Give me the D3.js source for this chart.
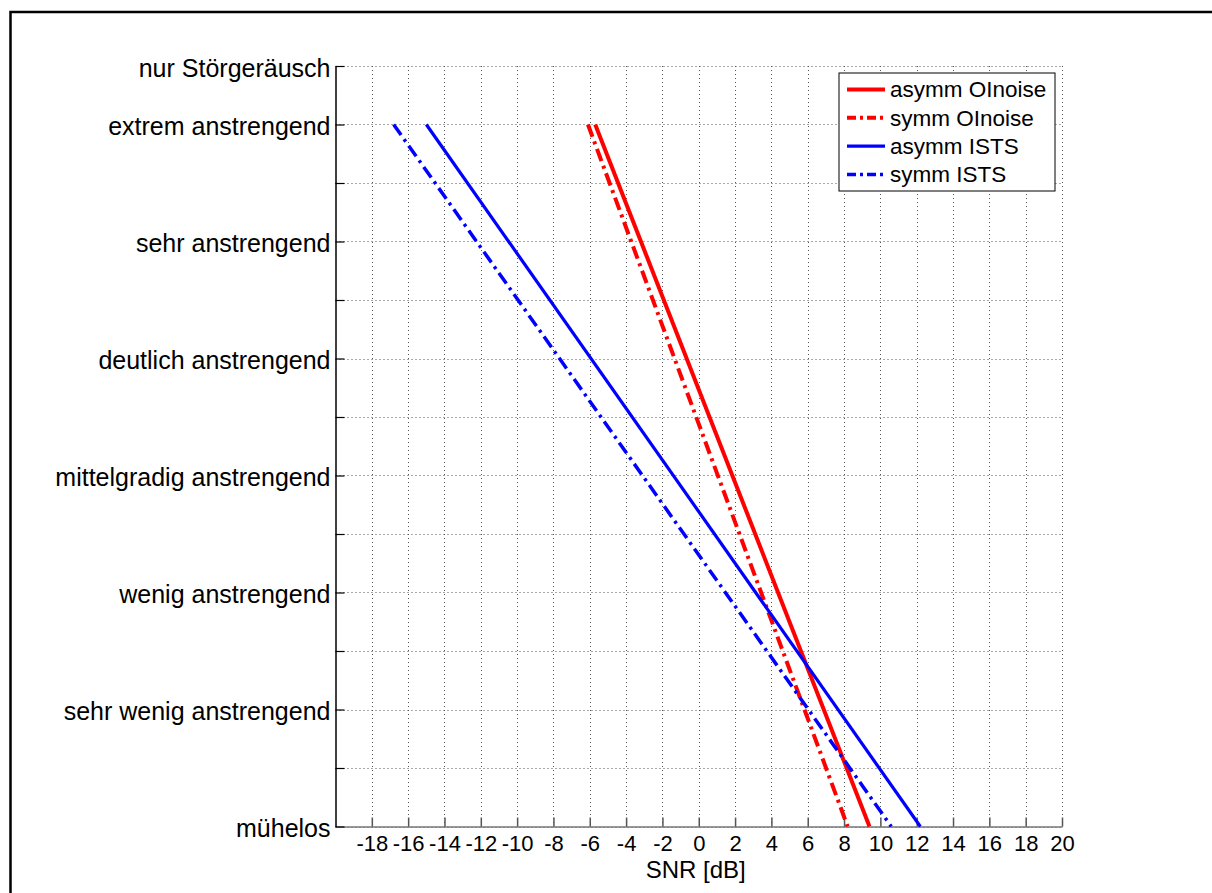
<!DOCTYPE html>
<html>
<head>
<meta charset="utf-8">
<script src="https://cdn.jsdelivr.net/npm/d3@7"></script>
<style>
    body { margin: 0; background: #fff; }
    svg { display: block; font-family: "Liberation Sans", Arial, Helvetica, sans-serif; }
</style>
</head>
<body>
<svg id="chart" width="1212" height="893"></svg>
<script>
'use strict';

// rating scale levels (1 = mühelos ... 14 = nur Störgeräusch)
const levels = [1, 2, 3, 4, 5, 6, 7, 8, 9, 10, 11, 12, 13, 14];
const levelLabels = {
    1: 'mühelos',
    3: 'sehr wenig anstrengend',
    5: 'wenig anstrengend',
    7: 'mittelgradig anstrengend',
    9: 'deutlich anstrengend',
    11: 'sehr anstrengend',
    13: 'extrem anstrengend',
    14: 'nur Störgeräusch'
};
const snrTicks = [-18, -16, -14, -12, -10, -8, -6, -4, -2, 0, 2, 4, 6, 8, 10, 12, 14, 16, 18, 20];

// [SNR dB, level] end points of the fitted lines
const asymmOlnoise = [[-5.7, 13], [9.4, 1]];
const symmOlnoise = [[-6.1, 13], [8.2, 1]];
const asymmISTS = [[-15.0, 13], [12.2, 1]];
const symmISTS = [[-16.8, 13], [10.6, 1]];

const series = [
    { name: 'asymm OInoise', values: asymmOlnoise, color: '#ff0000', width: 4, dash: null },
    { name: 'symm OInoise', values: symmOlnoise, color: '#ff0000', width: 4, dash: '13,5,3,5' },
    { name: 'asymm ISTS', values: asymmISTS, color: '#0000ff', width: 3.2, dash: null },
    { name: 'symm ISTS', values: symmISTS, color: '#0000ff', width: 3.5, dash: '13,5,3,5' }
];

const svg = d3.select('#chart');

// outer figure frame (runs off the right and bottom edge)
svg.append('rect')
    .attr('x', 10.5)
    .attr('y', 12)
    .attr('width', 1300)
    .attr('height', 950)
    .attr('fill', 'none')
    .attr('stroke', '#000')
    .attr('stroke-width', 2.5);

const x = d3.scaleLinear().domain([-20, 20]).range([335.5, 1062]);
const y = d3.scaleLinear().domain([1, 14]).range([826.5, 66]);

// grid
const grid = svg.append('g').attr('class', 'grid')
    .attr('stroke', '#555')
    .attr('stroke-width', 1)
    .attr('stroke-dasharray', '1,3');

grid.selectAll('.vgrid')
    .data(snrTicks)
    .enter()
    .append('line')
    .attr('class', 'vgrid')
    .attr('x1', d => Math.round(x(d)) + 0.5)
    .attr('x2', d => Math.round(x(d)) + 0.5)
    .attr('y1', y(14))
    .attr('y2', y(1));

grid.selectAll('.hgrid')
    .data(levels)
    .enter()
    .append('line')
    .attr('class', 'hgrid')
    .attr('x1', x(-20))
    .attr('x2', x(20))
    .attr('y1', d => Math.round(y(d)) + 0.5)
    .attr('y2', d => Math.round(y(d)) + 0.5);

// axes
const xAxis = d3.axisBottom(x)
    .tickValues(snrTicks)
    .tickFormat(d => String(d))
    .tickSizeInner(-9)
    .tickSizeOuter(0)
    .tickPadding(9);

const yAxis = d3.axisLeft(y)
    .tickValues(levels)
    .tickFormat(d => levelLabels[d] || '')
    .tickSizeInner(-9)
    .tickSizeOuter(0)
    .tickPadding(14);

const gx = svg.append('g')
    .attr('transform', `translate(0, ${y(1)})`)
    .call(xAxis);
gx.select('.domain').attr('stroke', '#777').attr('stroke-width', 1.5);
gx.selectAll('.tick line').attr('stroke', '#555').attr('stroke-width', 1.5);
gx.selectAll('.tick text')
    .attr('fill', '#000')
    .attr('font-size', 22);

const gy = svg.append('g')
    .attr('transform', `translate(${x(-20)}, 0)`)
    .call(yAxis);
gy.select('.domain').attr('stroke', '#000').attr('stroke-width', 1.5);
gy.selectAll('.tick line').attr('stroke', '#000').attr('stroke-width', 1.2);
gy.selectAll('.tick text')
    .attr('fill', '#000')
    .attr('font-size', 25)
    .attr('dx', 9)
    .attr('dy', '0.4em');

svg.append('text')
    .attr('x', (x(-20) + x(20)) / 2 - 3)
    .attr('y', 878)
    .attr('text-anchor', 'middle')
    .attr('font-size', 24)
    .text('SNR [dB]');

// lines
const line = d3.line()
    .x(d => x(d[0]))
    .y(d => y(d[1]));

svg.append('g').selectAll('.series')
    .data(series)
    .enter()
    .append('path')
    .attr('class', 'series')
    .attr('d', d => line(d.values))
    .attr('fill', 'none')
    .attr('stroke', d => d.color)
    .attr('stroke-width', d => d.width)
    .attr('stroke-dasharray', d => d.dash);

// legend
const legend = svg.append('g').attr('transform', 'translate(839, 73)');

legend.append('rect')
    .attr('width', 216)
    .attr('height', 118)
    .attr('fill', '#fff')
    .attr('stroke', '#000')
    .attr('stroke-width', 1);

const entries = legend.selectAll('.entry')
    .data(series)
    .enter()
    .append('g')
    .attr('class', 'entry')
    .attr('transform', (d, i) => `translate(0, ${16.5 + i * 28.3})`);

entries.append('line')
    .attr('x1', 8)
    .attr('x2', 46)
    .attr('stroke', d => d.color)
    .attr('stroke-width', d => d.width)
    .attr('stroke-dasharray', d => d.dash ? '9,4,3,4' : null);

entries.append('text')
    .attr('x', 51)
    .attr('dy', '0.35em')
    .attr('font-size', 22.5)
    .text(d => d.name);
</script>
</body>
</html>
